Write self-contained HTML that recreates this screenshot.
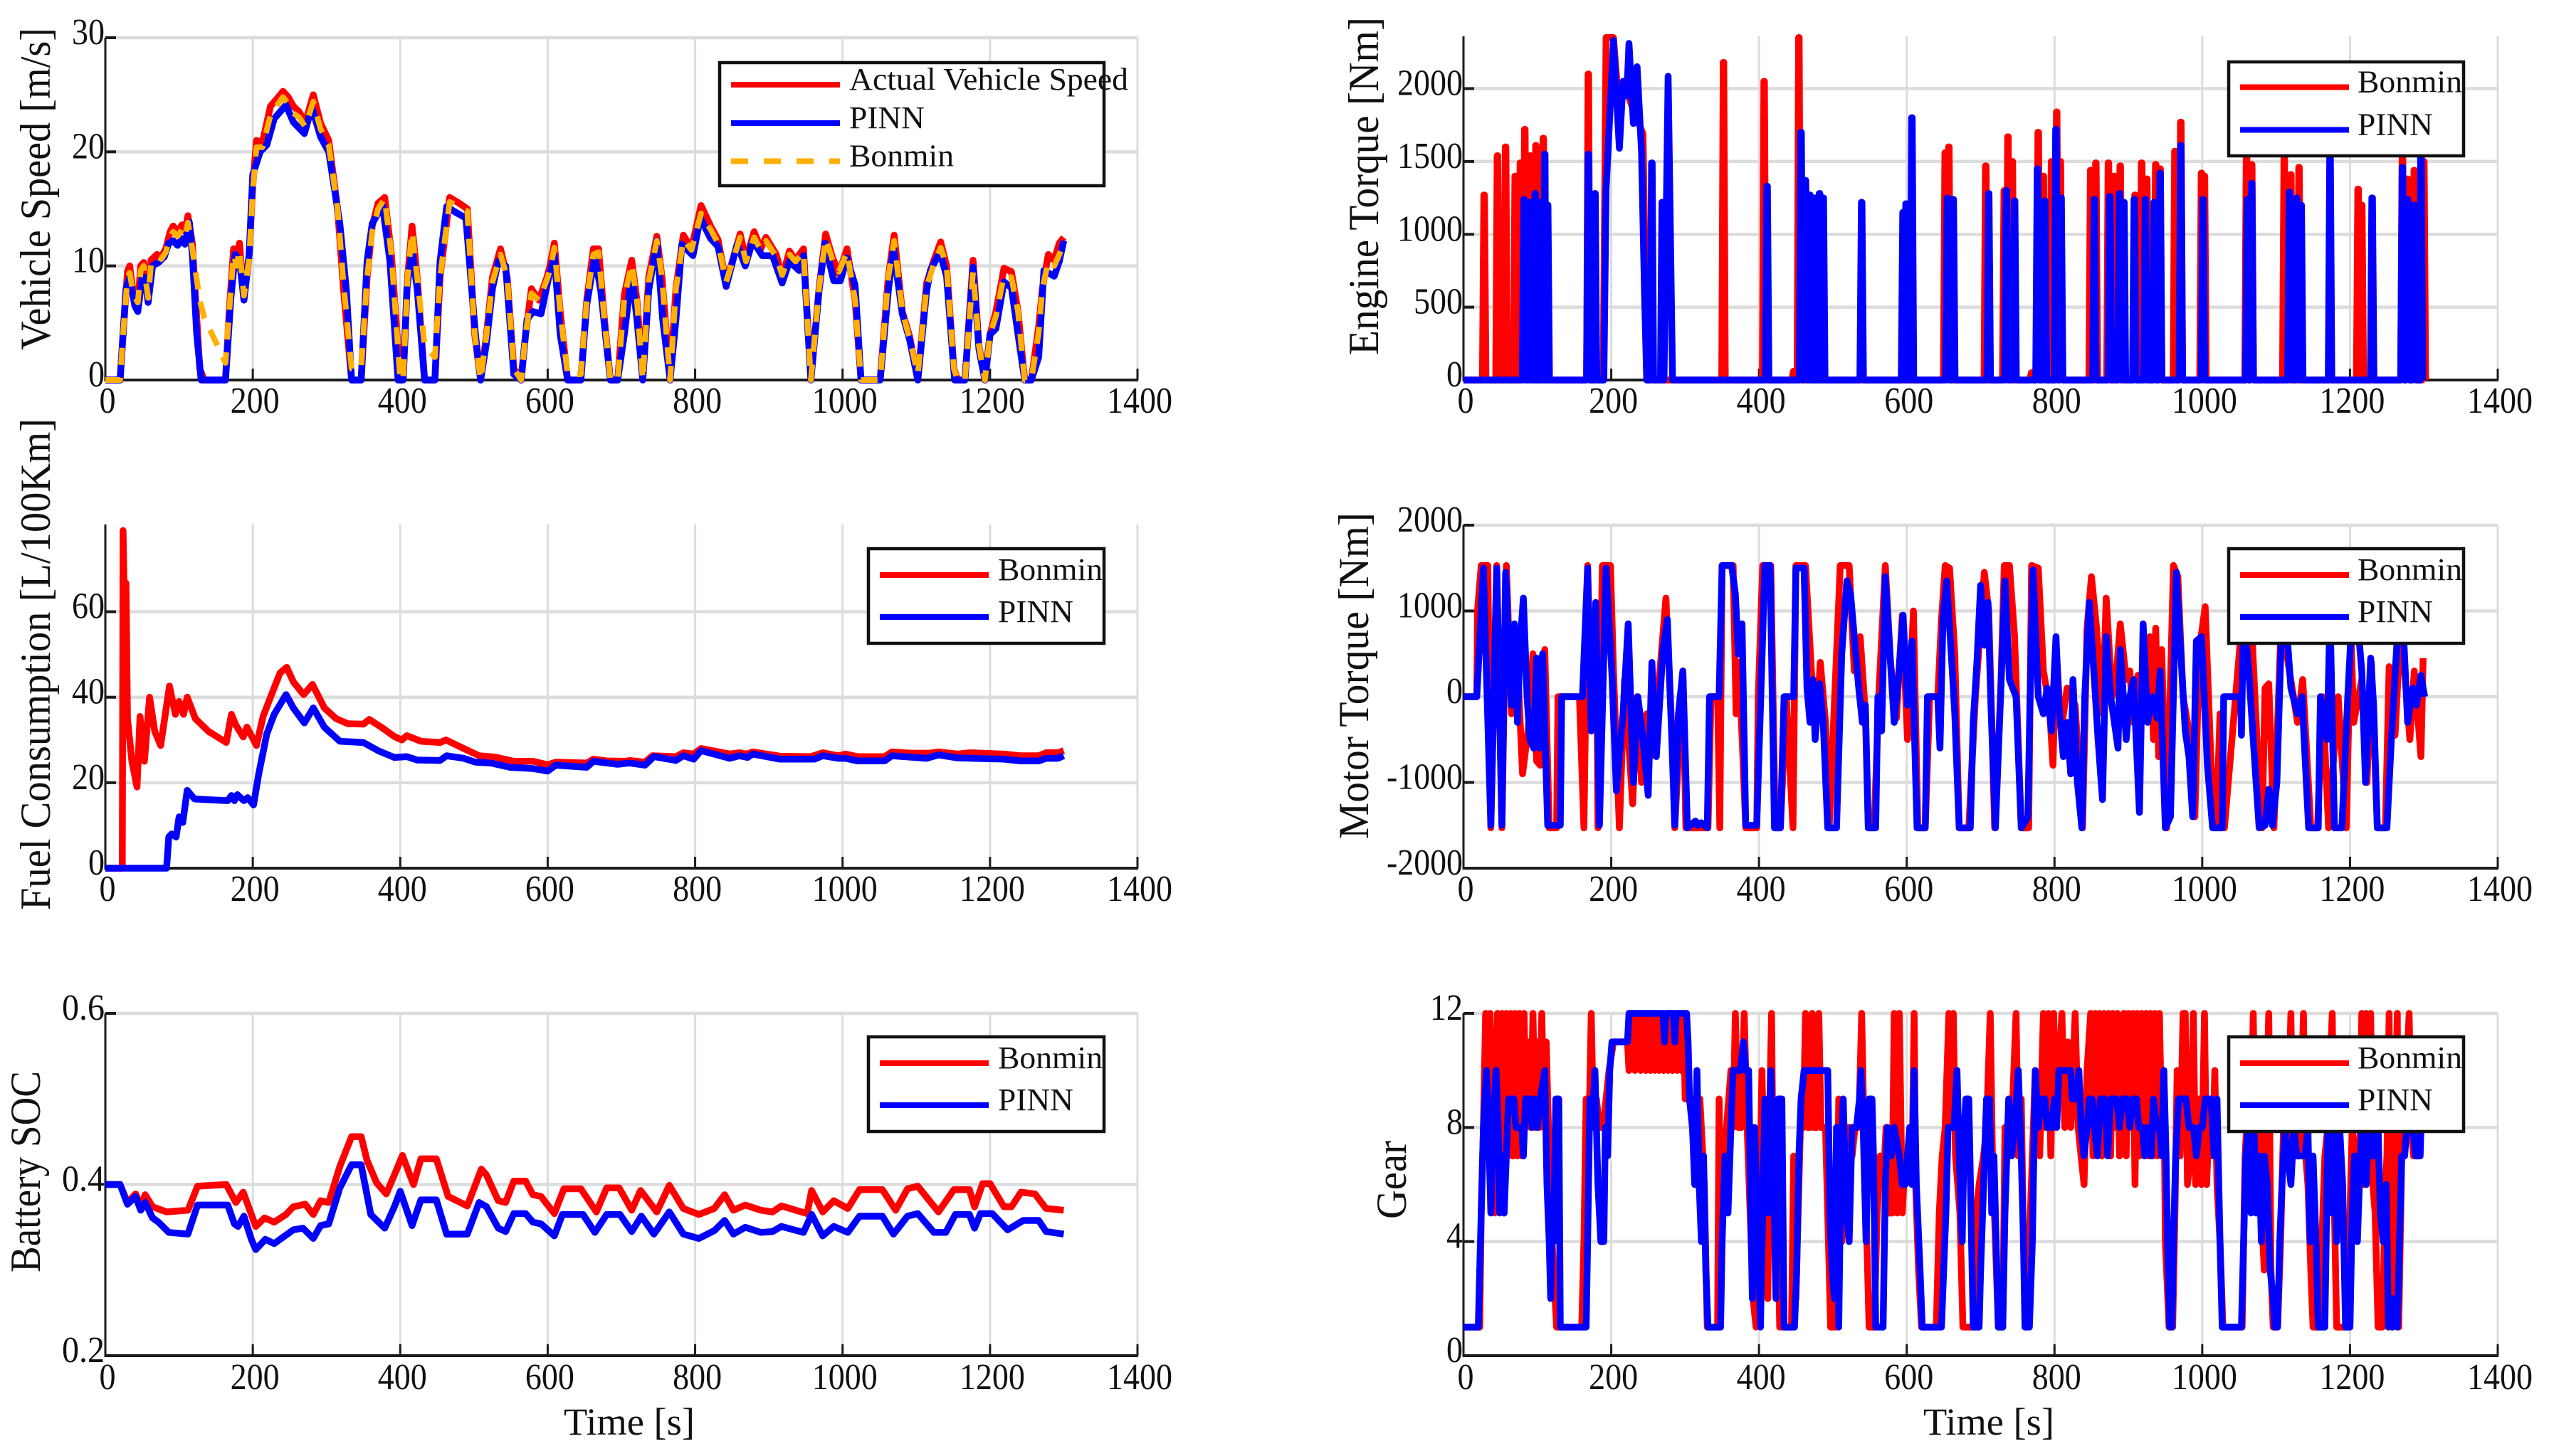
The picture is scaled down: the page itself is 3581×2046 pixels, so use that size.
<!DOCTYPE html>
<html>
<head>
<meta charset="utf-8">
<title>PINN vs Bonmin vehicle control results</title>
<style>
html,body{margin:0;padding:0;background:#fff;}
svg{display:block;}
text{font-family:"Liberation Serif","Noto Serif CJK SC",serif;fill:#111;}
</style>
</head>
<body>
<svg id="figure" xmlns="http://www.w3.org/2000/svg" width="3581" height="2046" viewBox="0 0 3581 2046"></svg>
<script>
const xTickLabels=[0,200,400,600,800,1000,1200,1400];

const speedTime=[0,20,24,30,33,38,44,48,52,58,62,70,76,82,88,92,98,104,108,112,118,128,134,163,168,174,178,182,188,195,200,205,213,224,232,241,248,255,263,271,282,292,303,315,323,334,347,355,362,370,379,388,400,404,410,416,423,433,447,454,467,480,491,501,509,517,525,536,545,554,564,570,578,588,599,603,609,617,627,645,653,662,669,676,685,695,704,714,721,729,737,748,755,766,774,784,795,808,821,831,842,861,869,880,889,896,910,918,928,936,947,957,968,977,986,995,1006,1017,1025,1051,1062,1070,1081,1091,1102,1114,1124,1133,1141,1151,1156,1166,1177,1185,1193,1200,1208,1219,1229,1238,1247,1256,1266,1271,1279,1287,1294,1300];
const speedActual=[0,0,4,9.5,10,7.5,6.5,10,10.3,7,10.5,11,10.8,11.5,13,13.5,13,13.6,13,14.4,12,1,0,0,6,11.5,10.5,12,7,11,17,21,20.8,24,24.6,25.3,24.8,24,23.5,22.5,25,22.5,21,15,8,0,0,9,13.5,15.5,16,11,0,0,9,13.5,9,0,0,9,16,15.5,15,4,0,4,9,11.5,9,1,0,4,8,7,9,10,12,6,0,0,7,11.5,11.5,6,0,0,7.5,10.5,7,0,9,12.6,9,0,8,12.7,11.5,15.3,13.5,12.3,8.5,12.8,10.5,13,11.5,12.5,11,9,11.3,10.5,11.5,0,8,12.8,10.8,9.3,11.5,7,0,0,9,12.7,6,3.8,0,8.5,10.5,12.1,10,1,0,0,10.5,3,0,4,6,9.8,9.5,6,0,0,4.7,8,11,10.5,12,12.5];
const speedBonmin=[0,0,4,9,9.4,7.5,6.8,9.6,10,7.2,10.2,10.8,10.6,11.2,12.6,13,12.6,13.2,12.6,13.8,11.5,7,5.5,1.5,6,11,10,11.4,7.4,10.6,16.6,20.4,20.4,23.2,24,24.8,24.2,23.4,23,22.2,24.4,22,20.6,15,8.5,1,1,9,13,15,15.9,11,0,0,9,13,9,3,2,9,15.6,15.2,14.8,4,0,4,8.6,11,9,1,0,4,7.6,7,8.8,9.6,11.6,6,0.5,0.5,7,11,11.2,6,0,0,7.2,10.2,7,0,8.6,12.2,9,0,8,12.3,11.4,14.6,13.2,12,8.6,12.5,10.4,12.5,11.4,12.2,10.8,9.2,11,10.4,11.2,0,8,12.4,10.6,9.5,11.2,7,0,0,9,12.2,6,3.6,0.5,8.2,10.2,11.6,10,1,0,0,9.5,3,0,4,5.6,9.2,9,6,0,0,4.2,8,10.4,10,11,12];
const speedPinnTime=[0,20,28,33,40,44,50,54,58,64,72,80,86,92,98,104,108,114,118,124,130,163,170,176,182,188,195,200,210,219,229,245,255,270,280,292,303,318,327,334,347,355,362,376,386,397,404,409,416,423,433,447,454,463,475,489,502,509,517,525,533,543,554,564,572,580,591,601,609,617,627,645,653,664,672,685,695,704,714,721,729,737,748,756,766,774,782,797,807,821,831,842,857,868,878,891,905,918,928,941,947,957,968,976,988,997,1006,1017,1025,1051,1062,1069,1081,1091,1102,1114,1119,1132,1141,1152,1166,1177,1185,1193,1200,1208,1219,1229,1238,1247,1256,1266,1273,1287,1294,1300];
const speedPinn=[0,0,8,9,6.5,6,9,9,6.8,10,10.3,10.8,12,12.2,11.8,12.4,11.9,13.8,11,4,0,0,7,11,10.5,7,11,18,20,20.6,22.9,24.1,22.6,21.6,23.9,21.3,20,13.7,7.8,0,0,10.4,13.7,15.3,10.4,0,0,8,11.4,8,0,0,10.4,15.2,14.7,14.2,4,0,3.3,8,10.4,10,0.5,0,5.3,6,5.8,8.9,10.9,4,0,0,6.6,10.9,7.8,0,0,4,9.4,5.3,0,7.8,12.2,5.3,0,5.3,11.9,10.9,14.2,12.4,11.7,8.2,11.9,10,12.2,10.9,10.9,8.5,10.4,9.6,10.9,0,7.8,12,8.7,8.7,10.7,8.3,0,0,7.8,11.5,5.8,3.5,0,7.8,9.6,11.2,9.1,0,0,9.9,2.7,0,4,4.5,8.6,8.1,4,0,0,2,9.6,9.1,10.4,12.2];

const fuelBonminTime=[0,23,24,27,28,30,36,43,47,53,60,67,75,87,95,100,106,111,122,140,164,171,177,187,192,205,214,224,237,246,255,269,281,297,313,329,350,358,376,392,402,409,428,454,462,486,507,528,554,580,600,611,653,662,680,706,711,732,742,774,784,798,808,847,860,870,878,915,957,973,994,1004,1020,1057,1067,1093,1118,1130,1156,1172,1219,1240,1266,1276,1292,1300];
const fuelBonmin=[0,0,79,50,66.7,35,25,19,35.5,25,40,32,28.7,42.6,36,39,36,40,35,32,29.4,36,33.5,30.7,33,28.7,35.5,40,45.7,47,43.6,40.6,43,37.5,35,33.8,33.7,34.8,32.8,30.8,30,31,29.7,29.4,30,28,26.3,26,25,25,24.2,24.8,24.6,25.5,25.1,25,25.2,24.8,26.3,26.1,27,26.7,28,26.7,27,26.7,27.2,26.2,26.1,27,26.3,26.7,26.1,26.1,27.2,26.9,26.9,27.2,26.7,27,26.7,26.3,26.3,27,27,27.5];
const fuelPinnTime=[0,83,86,90,96,100,105,111,121,166,171,175,179,188,193,201,208,219,229,245,255,270,282,297,318,350,371,392,409,423,454,463,486,502,523,549,580,600,611,653,662,695,711,732,744,774,784,798,808,847,860,871,878,915,962,973,994,1004,1020,1057,1067,1114,1130,1156,1219,1240,1266,1276,1292,1300];
const fuelPinn=[0,0,7.3,8,7.3,12,10.7,18.2,16.2,15.8,17,15.8,17.2,15.8,16.5,14.8,22,31.4,36,40.6,37.5,34,37.5,33,29.7,29.4,27.4,25.9,26.1,25.3,25.2,26.3,25.7,24.8,24.6,23.6,23.3,22.7,24.1,23.6,25,24.3,24.6,24.1,26.1,25.2,26.3,25.5,27.5,25.7,26.3,25.9,26.7,25.5,25.5,26.3,25.7,25.7,25.1,25.1,26.3,25.7,26.5,25.8,25.5,25.1,25.1,25.7,25.7,26.3];

const socBonminTime=[0,20,30,41,48,54,64,83,112,125,164,177,187,204,216,229,245,255,271,282,292,303,318,334,347,355,368,381,392,403,418,428,449,465,491,510,517,533,543,554,570,580,591,609,622,645,666,680,697,714,726,748,765,784,805,826,840,852,868,889,905,917,952,958,973,988,1007,1023,1054,1072,1088,1102,1130,1151,1172,1179,1190,1200,1219,1229,1242,1261,1276,1300];
const socBonmin=[0.4,0.4,0.379,0.389,0.375,0.388,0.374,0.368,0.37,0.398,0.4,0.379,0.391,0.351,0.361,0.356,0.365,0.374,0.377,0.365,0.381,0.379,0.421,0.456,0.456,0.428,0.402,0.389,0.411,0.434,0.4,0.43,0.43,0.386,0.375,0.418,0.411,0.381,0.379,0.404,0.404,0.388,0.386,0.366,0.395,0.395,0.368,0.396,0.396,0.37,0.393,0.368,0.399,0.372,0.365,0.372,0.388,0.37,0.376,0.37,0.368,0.375,0.366,0.393,0.368,0.381,0.372,0.394,0.394,0.37,0.395,0.398,0.368,0.394,0.394,0.374,0.401,0.401,0.374,0.374,0.391,0.389,0.372,0.37];
const socPinnTime=[0,20,30,41,48,54,64,72,86,112,125,166,175,180,188,198,204,217,229,255,268,282,292,303,318,334,347,360,379,392,400,416,428,449,463,491,507,517,533,543,554,570,580,591,609,620,648,664,680,698,714,727,744,765,784,805,826,840,852,868,889,905,917,947,958,973,988,1007,1023,1054,1069,1088,1102,1124,1140,1153,1172,1179,1187,1203,1224,1245,1266,1276,1300];
const socPinn=[0.4,0.4,0.377,0.386,0.37,0.379,0.361,0.356,0.344,0.342,0.376,0.376,0.354,0.351,0.363,0.336,0.324,0.336,0.331,0.347,0.349,0.337,0.352,0.354,0.396,0.423,0.423,0.365,0.349,0.374,0.392,0.352,0.382,0.382,0.342,0.342,0.379,0.374,0.349,0.345,0.366,0.366,0.356,0.354,0.34,0.365,0.365,0.344,0.365,0.365,0.345,0.363,0.342,0.368,0.342,0.337,0.346,0.358,0.342,0.35,0.344,0.345,0.351,0.344,0.365,0.34,0.351,0.344,0.363,0.363,0.342,0.363,0.366,0.344,0.344,0.365,0.365,0.349,0.366,0.366,0.347,0.358,0.358,0.345,0.342];

const engineBonminSpikeTime=[28,46,57,70,77,83,90,98,108,169,352,407,447,454,652,657,707,732,737,743,769,778,785,796,803,808,849,856,873,881,889,909,918,925,937,943,963,971,999,1003,1060,1067,1111,1120,1131,1211,1216,1271,1278,1287,1300];
const engineBonminSpikePeak=[1270,1540,1600,1400,1490,1720,1540,1610,1660,2100,2180,2050,60,2350,1560,1600,1470,1300,1670,1500,50,1700,1400,1500,1840,1500,1440,1490,1490,1400,1470,1270,1490,1380,1480,1450,1570,1770,1420,1400,1600,1480,1520,1410,1460,1310,1200,1600,1380,1440,1500];
const engineBonminBlockTime=[189,193,203,210,220,230,243,248];
const engineBonminBlockValue=[0,2350,2350,1900,2000,1850,1690,0];
const enginePinnSpikeTime=[82,86,90,94,97,100,103,107,110,114,169,178,255,269,411,457,463,469,473,476,479,482,484,487,539,595,599,607,655,663,711,735,746,777,787,802,809,854,875,888,894,908,923,935,943,971,1001,1061,1067,1118,1128,1134,1173,1230,1271,1278,1287,1296];
const enginePinnSpikePeak=[1240,1200,1220,1200,1280,1200,1220,1200,1550,1200,1550,1280,1490,1220,1330,1700,1370,1270,1230,1250,1230,1280,1230,1250,1220,1150,1210,1800,1250,1240,1280,1300,1230,1450,1230,1720,1250,1240,1260,1280,1220,1240,1240,1220,1420,1610,1240,1240,1350,1290,1250,1200,1600,1250,1460,1240,1200,1600];
const enginePinnBlockTime=[190,193,203,211,216,221,224,230,235,241,245,248,270,277,283];
const enginePinnBlockValue=[0,1300,2330,1590,2050,1950,2310,1760,2150,1570,600,0,0,2085,0];

const motorBonminTime=[0,18,19,24,33,37,45,52,58,65,72,80,88,94,99,104,110,116,126,128,157,163,168,173,180,182,188,199,203,211,218,229,235,241,248,253,264,274,282,286,297,301,331,335,344,347,350,365,369,373,382,397,399,405,416,422,429,437,446,450,463,471,478,483,490,495,510,522,529,537,544,548,556,562,571,578,586,594,601,609,615,625,631,642,647,652,658,665,671,684,693,705,711,719,727,732,739,746,755,765,769,778,785,793,798,802,809,817,828,838,844,850,857,865,870,878,884,889,897,902,907,913,918,929,934,937,941,945,952,961,967,974,980,990,996,1004,1012,1019,1024,1030,1054,1067,1074,1081,1085,1090,1097,1107,1118,1129,1136,1147,1156,1163,1171,1184,1195,1201,1205,1216,1223,1229,1237,1248,1253,1261,1269,1274,1281,1287,1296,1299];
const motorBonmin=[0,0,1000,1530,1530,-1530,1530,-1530,1530,-200,600,-900,-350,500,-750,-800,550,-1530,-1530,0,0,-1530,1530,-300,1000,-1530,1530,1530,300,-1530,200,-1250,0,-1000,-200,-700,100,1150,-400,-1530,300,-1530,-1530,0,0,-1530,1530,1530,-200,400,-1530,-1530,0,1530,1530,-1530,-1530,0,-1530,1530,1530,300,-300,400,-300,-1530,1530,1530,300,700,-200,-1530,-1530,0,1530,400,-250,950,-500,1000,-1530,-1530,0,0,900,1530,1500,500,-1530,-1530,0,1450,1000,-1530,0,1530,1530,700,-1530,-1530,1530,1500,300,-100,-800,600,-400,100,-100,-1530,800,1400,800,-200,1150,0,300,850,200,300,-300,250,100,700,-500,800,-700,550,-1530,1530,1400,0,-300,-1400,550,1050,-800,-1530,-200,-1530,900,800,-500,-1530,100,150,-1530,900,300,-300,200,-1530,-1530,0,-1530,0,-1530,800,-300,200,-1000,400,-1530,-1530,350,-450,900,300,-500,300,-700,450];
const motorPinnTime=[0,18,27,37,45,52,57,65,69,73,77,81,86,90,95,99,103,107,114,131,133,161,168,173,179,184,193,201,207,216,223,230,236,243,250,255,261,270,276,282,286,291,297,303,314,317,322,330,333,346,350,363,368,372,377,382,397,408,415,421,429,434,447,450,461,465,469,473,476,482,487,493,505,512,519,524,531,535,540,544,548,558,561,566,571,578,583,589,595,601,607,614,625,628,642,645,649,654,661,665,671,686,690,695,700,705,710,714,720,727,733,739,748,755,764,767,771,778,785,790,796,802,806,812,817,822,825,831,837,841,847,854,859,865,870,876,881,886,889,897,902,907,915,920,926,933,939,943,950,957,965,971,977,982,987,992,999,1007,1014,1027,1029,1052,1053,1056,1063,1069,1077,1085,1090,1095,1101,1107,1115,1120,1129,1135,1144,1157,1160,1169,1173,1179,1189,1197,1203,1209,1216,1221,1228,1232,1237,1250,1256,1264,1271,1278,1285,1290,1296,1301];
const motorPinn=[0,0,1500,-1500,1500,-1500,1450,-100,850,-300,650,1150,0,-500,-600,450,-600,500,-1500,-1500,0,0,1500,-400,1100,-1500,1500,250,-1100,-200,850,-1000,0,-500,-1150,400,-700,550,900,-500,-1500,-200,300,-1530,-1450,-1500,-1470,-1530,0,0,1530,1530,1200,500,850,-1500,-1500,1530,1530,-1530,-1530,0,0,1500,1500,100,-300,200,-500,150,-300,-1530,-1530,500,1350,1200,500,100,-300,-100,-1530,-1530,0,-400,1400,400,-300,250,950,-100,650,-1530,-1530,0,0,-600,900,1350,400,-200,-1530,-1530,-300,400,1300,600,1100,-100,-1530,0,1350,200,0,-1530,-1400,0,1480,0,-200,100,-400,700,-100,-700,-300,-900,200,-1000,-1530,0,1100,200,-500,-1200,700,0,-300,-600,550,-500,0,200,-1350,850,-300,0,-250,300,-1530,-1400,1450,500,-400,-700,-1400,650,700,-800,-1530,-1530,0,0,-450,1000,300,-500,-1530,-1500,-1080,-1500,-1000,700,700,100,-200,0,-1530,-1530,0,-500,1000,-1530,-1530,0,1000,1000,300,-1000,450,-100,-1530,-1530,-500,700,1000,-300,100,-100,250,0];

const gearBonminTime=[0,22,24,27,30,33,36,39,42,46,49,52,55,58,61,64,67,70,73,76,79,82,85,88,91,94,97,100,103,106,109,112,115,118,120,124,126,160,163,166,170,173,176,180,184,189,193,197,203,222,224,226,228,232,236,240,244,247,250,253,256,259,262,265,268,271,274,277,280,283,286,289,292,295,298,300,303,306,310,316,320,326,330,344,346,349,352,356,362,365,368,372,376,380,384,388,392,396,400,404,408,412,414,417,420,424,428,444,447,450,456,460,463,466,470,472,475,478,481,484,490,494,497,504,508,512,516,522,526,530,535,539,542,546,549,556,560,564,568,572,576,580,583,587,590,594,598,604,608,610,612,616,620,640,644,648,652,657,660,663,666,672,676,690,694,698,704,708,713,716,720,724,730,733,738,742,748,751,755,758,762,766,770,774,780,785,788,792,795,799,802,806,810,814,818,822,828,832,836,840,844,849,852,855,858,861,864,867,870,873,876,879,882,885,888,891,894,897,900,903,906,909,912,915,918,921,924,927,930,933,936,939,942,945,948,950,955,960,963,966,970,974,977,980,984,988,991,995,999,1003,1006,1010,1014,1017,1020,1024,1028,1054,1058,1062,1066,1069,1072,1076,1080,1084,1087,1090,1093,1096,1102,1106,1110,1114,1117,1120,1123,1126,1130,1134,1137,1140,1143,1147,1150,1158,1162,1166,1170,1173,1176,1179,1182,1195,1199,1203,1206,1210,1214,1216,1219,1222,1225,1228,1231,1234,1238,1244,1248,1250,1253,1256,1260,1264,1266,1270,1275,1280,1283,1286,1293,1295];
const gearBonmin=[1,1,5,8,12,7,12,8,5,12,7,12,5,12,7,12,7,12,7,12,7,12,8,11,8,12,8,11,8,12,8,11,8,7,4,2,1,1,4,9,8,12,8,9,8,8,9,10,11,11,10,11,12,10,12,10,12,10,12,10,12,10,12,10,12,10,12,10,12,10,12,10,12,10,12,9,10,9,8,6,9,6,1,1,9,4,7,8,10,8,12,8,8,12,8,5,2,1,4,10,5,2,8,12,4,7,1,1,7,2,8,8,12,8,8,12,8,8,12,8,8,4,1,1,9,4,8,8,7,8,8,12,8,4,1,1,5,7,6,8,5,5,12,5,12,5,7,7,8,12,6,3,1,1,5,7,8,12,8,12,7,5,1,1,5,6,7,8,12,7,4,1,1,8,7,8,12,7,9,4,1,4,7,10,7,12,8,12,7,12,8,10,12,8,11,8,12,8,7,6,10,12,7,12,8,12,7,12,8,12,7,12,8,12,7,11,12,7,12,8,12,6,12,7,12,8,12,7,12,7,12,7,12,8,10,4,1,1,5,10,7,12,12,6,7,12,6,9,6,12,6,9,7,10,6,4,1,1,7,9,8,12,7,9,5,3,9,12,3,1,1,4,8,7,9,12,7,8,7,9,12,7,6,3,1,1,4,7,8,10,12,5,1,1,4,8,7,6,8,12,6,12,7,12,6,5,1,1,6,7,12,1,7,12,1,7,9,12,8,7,7,8];
const gearPinnTime=[0,20,22,24,27,31,34,37,40,44,47,49,52,55,58,61,68,71,79,81,84,90,93,96,100,104,110,113,116,118,120,122,125,129,131,166,168,171,174,178,182,186,190,192,195,198,201,222,224,270,272,274,284,286,288,302,304,306,310,313,316,319,322,325,328,331,348,350,354,358,362,365,375,379,382,386,389,391,394,398,402,405,408,412,416,419,423,426,431,434,448,451,454,457,461,493,496,499,502,505,508,511,514,518,522,526,532,536,538,541,545,549,553,555,558,568,571,574,579,583,590,594,598,601,604,607,610,613,618,621,647,650,653,656,664,668,671,675,678,680,684,687,690,698,700,704,708,712,715,718,721,724,730,733,738,742,746,751,755,758,760,766,770,774,778,782,787,790,796,800,803,806,822,824,830,833,836,840,844,847,851,854,858,862,868,872,876,884,888,892,898,902,906,911,914,919,922,926,931,934,938,942,945,948,951,953,956,959,961,964,968,978,982,988,992,996,1000,1004,1012,1016,1020,1024,1027,1053,1056,1059,1062,1066,1070,1073,1077,1080,1084,1088,1092,1096,1098,1102,1105,1108,1112,1116,1120,1124,1128,1135,1139,1143,1146,1150,1154,1157,1166,1170,1173,1176,1179,1182,1186,1190,1194,1200,1203,1206,1210,1214,1218,1222,1226,1230,1234,1238,1241,1245,1249,1252,1256,1258,1261,1264,1267,1270,1274,1277,1281,1285,1289,1295,1296];
const gearPinn=[1,1,3,5,8,10,8,5,8,10,8,5,7,5,7,9,9,8,8,7,9,9,8,9,8,9,10,6,4,2,5,4,9,9,1,1,4,9,8,10,6,4,4,8,7,10,11,11,12,12,11,12,12,11,12,12,11,9,8,6,10,6,4,7,3,1,1,4,7,5,8,10,10,11,10,10,5,2,8,5,1,5,9,5,10,7,2,9,9,1,1,3,7,9,10,10,5,3,2,8,1,7,9,5,4,8,8,9,10,8,4,9,9,7,1,1,6,8,7,8,7,6,6,7,8,6,10,6,3,1,1,3,5,8,8,10,7,4,8,9,9,5,1,1,3,6,9,9,5,7,4,1,1,5,9,7,8,10,7,4,1,1,4,10,8,9,9,8,8,9,8,10,10,9,9,10,8,7,8,9,9,8,7,9,9,7,9,9,8,9,9,8,9,9,8,8,7,8,7,9,8,8,7,10,7,4,1,1,4,7,9,9,8,8,7,8,8,9,9,7,9,4,1,1,4,7,8,5,8,5,7,4,7,6,3,2,1,1,4,6,8,7,6,8,7,7,7,8,4,7,4,1,1,8,9,5,8,4,8,6,1,1,5,7,4,7,9,6,9,7,7,8,5,4,6,1,2,1,2,1,4,7,7,8,9,8,7,7,8];

const legendVehicle=["Actual Vehicle Speed","PINN","Bonmin"];
const legendMethods=["Bonmin","PINN"];
const spikeHalfWidth=2.4;

const RED="#ff0000",BLUE="#0000ff",ORANGE="#ffb000",GRID="#dcdcdc",INK="#1c1c1c";
const LINE_WIDTH=9.5;
const svg=document.getElementById('figure');
const NS='http://www.w3.org/2000/svg';

function mk(tag,attrs,parent){
  const el=document.createElementNS(NS,tag);
  for(const k in attrs){el.setAttribute(k,attrs[k]);}
  parent.appendChild(el);
  return el;
}
function tickWidth(s){
  let w=0;
  for(const c of String(s)){w+= c==='.'?14:(c==='-'?15:23);}
  return w;
}
function merge(spT,spV,blT,blV,end){
  const pts=[[0,0],[end,0]];
  spT.forEach((t,i)=>{
    pts.push([t-spikeHalfWidth,0],[t-0.4,spV[i]],[t+0.4,spV[i]],[t+spikeHalfWidth,0]);
  });
  blT.forEach((t,i)=>{pts.push([t,blV[i]]);});
  pts.sort((a,b)=>a[0]-b[0]);
  return pts;
}
function pairs(ts,vs){
  const out=[];
  const n=Math.min(ts.length,vs.length);
  for(let i=0;i<n;i++){out.push([ts[i],vs[i]]);}
  return out;
}

function drawPanel(p){
  const g=mk('g',{},svg);
  
  
  const xScale=t=>p.x0+(t-0)*(p.x1-p.x0)/1400;
  const yScale=v=>p.yBot-(v-p.yMin)*(p.yBot-p.yTickTop)/(p.yMaxTick-p.yMin);

  xTickLabels.forEach(t=>{
    const line=mk('line',{x1:xScale(t),x2:xScale(t),y1:p.axisTop,y2:p.yBot,stroke:GRID,'stroke-width':3},g);
    
    
  });
  p.yTicks.forEach(v=>{
    if(v===p.yMin)return;
    const line=mk('line',{x1:p.x0,x2:p.x1,y1:yScale(v),y2:yScale(v),stroke:GRID,'stroke-width':4.5},g);
    
    
  });

  const yAxis=mk('line',{x1:p.x0,x2:p.x0,y1:p.axisTop,y2:p.yBot+2,stroke:INK,'stroke-width':3},g);
  
  
  const xAxis=mk('line',{x1:p.x0,x2:p.x1+1,y1:p.yBot,y2:p.yBot,stroke:INK,'stroke-width':4},g);
  
  

  xTickLabels.forEach(t=>{
    const tick=mk('line',{x1:xScale(t),x2:xScale(t),y1:p.yBot,y2:p.yBot-16,stroke:INK,'stroke-width':3},g);
    
    
    const lab=mk('text',{x:xScale(t)+3,y:p.xLabelY,'text-anchor':'middle','font-size':52,textLength:tickWidth(t),lengthAdjust:'spacingAndGlyphs'},g);
    lab.textContent=t;
    
    
  });
  p.yTicks.forEach((v,i)=>{
    const tick=mk('line',{x1:p.x0,x2:p.x0+15,y1:yScale(v),y2:yScale(v),stroke:INK,'stroke-width':4},g);
    
    
    const s=p.yTickLabels[i];
    const lab=mk('text',{x:p.x0-1,y:yScale(v)+9,'text-anchor':'end','font-size':52,textLength:tickWidth(s),lengthAdjust:'spacingAndGlyphs'},g);
    lab.textContent=s;
    
    
  });

  p.series.forEach(s=>{
    const d=s.points.map(pt=>xScale(pt[0]).toFixed(1)+','+yScale(pt[1]).toFixed(1)).join(' ');
    const attrs={points:d,fill:'none',stroke:s.color,'stroke-width':LINE_WIDTH,'stroke-linejoin':'round','stroke-linecap':'butt'};
    if(s.dash){attrs['stroke-dasharray']=s.dash;attrs['stroke-width']=LINE_WIDTH-1.5;}
    const line=mk('polyline',attrs,g);
    
    
  });

  const yt=mk('text',{transform:'translate('+p.yLabelX+','+(p.yLabelTop+p.yLabelBot)/2+') rotate(-90)','text-anchor':'middle','font-size':60,textLength:p.yLabelBot-p.yLabelTop,lengthAdjust:'spacingAndGlyphs'},g);
  yt.textContent=p.yLabel;
  
  

  if(p.xLabelCx){
    const xt=mk('text',{x:p.xLabelCx,y:p.xTitleY,'text-anchor':'middle','font-size':54,textLength:184,lengthAdjust:'spacingAndGlyphs'},g);
    xt.textContent='Time [s]';
    
    
  }

  const L=p.legend;
  const lg=mk('g',{},g);
  
  
  const box=mk('rect',{x:L.x,y:L.y,width:L.w,height:L.h,fill:'#fff',stroke:'#111','stroke-width':4.5},lg);
  
  
  L.labels.forEach((t,i)=>{
    const attrs={x1:L.x+16,x2:L.x+16+153,y1:L.rowY[i],y2:L.rowY[i],stroke:L.colors[i],'stroke-width':8};
    if(L.colors[i]===ORANGE){attrs['stroke-dasharray']='24 22';}
    const sw=mk('line',attrs,lg);
    
    
    const len=t==='PINN'?106:(t==='Bonmin'?147:392);
    const tx=mk('text',{x:L.x+L.textDx,y:L.rowY[i]+7,'font-size':44,textLength:len,lengthAdjust:'spacingAndGlyphs'},lg);
    tx.textContent=t;
    
    
  });
}

const LX=148,LX2=1598,RX=2056,RX2=3509;

drawPanel({name:'vehicle-speed',x0:LX,x1:LX2,yBot:534,yTickTop:53,yMin:0,yMaxTick:30,axisTop:53,
  yTicks:[0,10,20,30],yTickLabels:['0','10','20','30'],xLabelY:580,
  yLabel:'Vehicle Speed [m/s]',yLabelX:70,yLabelTop:39,yLabelBot:492,
  series:[
    {name:'actual-speed-line',color:RED,points:pairs(speedTime,speedActual)},
    {name:'pinn-speed-line',color:BLUE,points:pairs(speedPinnTime,speedPinn)},
    {name:'bonmin-speed-line',color:ORANGE,dash:'24 18',points:pairs(speedTime,speedBonmin)}
  ],
  legend:{x:1011,y:88,w:540,h:173,labels:legendVehicle,colors:[RED,BLUE,ORANGE],rowY:[119,173,226.5],textDx:182}
});

drawPanel({name:'engine-torque',x0:RX,x1:RX2,yBot:534,yTickTop:124.5,yMin:0,yMaxTick:2000,axisTop:51,
  yTicks:[0,500,1000,1500,2000],yTickLabels:['0','500','1000','1500','2000'],xLabelY:580,
  yLabel:'Engine Torque [Nm]',yLabelX:1936,yLabelTop:24,yLabelBot:499,
  series:[
    {name:'bonmin-engine-torque-line',color:RED,points:merge(engineBonminSpikeTime,engineBonminSpikePeak,engineBonminBlockTime,engineBonminBlockValue,1295)},
    {name:'pinn-engine-torque-line',color:BLUE,points:merge(enginePinnSpikeTime,enginePinnSpikePeak,enginePinnBlockTime,enginePinnBlockValue,1295)}
  ],
  legend:{x:3131,y:87,w:330,h:132,labels:legendMethods,colors:[RED,BLUE],rowY:[122.5,182.5],textDx:181}
});

drawPanel({name:'fuel-consumption',x0:LX,x1:LX2,yBot:1220,yTickTop:859.6,yMin:0,yMaxTick:60,axisTop:737,
  yTicks:[0,20,40,60],yTickLabels:['0','20','40','60'],xLabelY:1266,
  yLabel:'Fuel Consumption [L/100Km]',yLabelX:70,yLabelTop:588,yLabelBot:1279,
  series:[
    {name:'bonmin-fuel-line',color:RED,points:pairs(fuelBonminTime,fuelBonmin)},
    {name:'pinn-fuel-line',color:BLUE,points:pairs(fuelPinnTime,fuelPinn)}
  ],
  legend:{x:1220,y:771,w:331,h:133,labels:legendMethods,colors:[RED,BLUE],rowY:[808,867],textDx:182}
});

drawPanel({name:'motor-torque',x0:RX,x1:RX2,yBot:1220,yTickTop:738,yMin:-2000,yMaxTick:2000,axisTop:738,
  yTicks:[-2000,-1000,0,1000,2000],yTickLabels:['-2000','-1000','0','1000','2000'],xLabelY:1266,
  yLabel:'Motor Torque [Nm]',yLabelX:1922,yLabelTop:720,yLabelBot:1179,
  series:[
    {name:'bonmin-motor-torque-line',color:RED,points:pairs(motorBonminTime,motorBonmin)},
    {name:'pinn-motor-torque-line',color:BLUE,points:pairs(motorPinnTime,motorPinn)}
  ],
  legend:{x:3131,y:771,w:330,h:133,labels:legendMethods,colors:[RED,BLUE],rowY:[808,867],textDx:181}
});

drawPanel({name:'battery-soc',x0:LX,x1:LX2,yBot:1905,yTickTop:1424,yMin:0.2,yMaxTick:0.6,axisTop:1424,
  yTicks:[0.2,0.4,0.6],yTickLabels:['0.2','0.4','0.6'],xLabelY:1952,
  yLabel:'Battery SOC',yLabelX:56,yLabelTop:1505,yLabelBot:1788,xLabelCx:884,xTitleY:2016,
  series:[
    {name:'bonmin-soc-line',color:RED,points:pairs(socBonminTime,socBonmin)},
    {name:'pinn-soc-line',color:BLUE,points:pairs(socPinnTime,socPinn)}
  ],
  legend:{x:1220,y:1457,w:331,h:133,labels:legendMethods,colors:[RED,BLUE],rowY:[1494,1553],textDx:182}
});

drawPanel({name:'gear',x0:RX,x1:RX2,yBot:1905,yTickTop:1424,yMin:0,yMaxTick:12,axisTop:1424,
  yTicks:[0,4,8,12],yTickLabels:['0','4','8','12'],xLabelY:1952,
  yLabel:'Gear',yLabelX:1975,yLabelTop:1603,yLabelBot:1713,xLabelCx:2794,xTitleY:2016,
  series:[
    {name:'bonmin-gear-line',color:RED,points:pairs(gearBonminTime,gearBonmin)},
    {name:'pinn-gear-line',color:BLUE,points:pairs(gearPinnTime,gearPinn)}
  ],
  legend:{x:3131,y:1457,w:330,h:133,labels:legendMethods,colors:[RED,BLUE],rowY:[1494,1553],textDx:181}
});
</script>
</body>
</html>
